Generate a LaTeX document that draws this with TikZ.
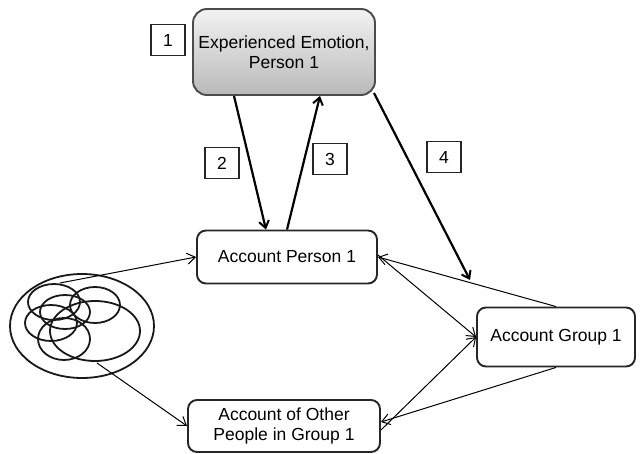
\documentclass[tikz,border=0pt]{standalone}
\usepackage{fontspec}
\setmainfont{Liberation Sans}
\usetikzlibrary{arrows.meta}
\tikzset{
  boxnode/.style = {align=center, inner sep=2pt, text centered, font=\fontsize{17.5}{20}\selectfont},
  acnode/.style = {boxnode, rectangle, rounded corners=9pt, draw=black!85, line width=1.9pt},
  emonode/.style = {acnode, draw=black!70, top color=gray!10, bottom color=gray!55, rounded corners=14pt},
  numnode/.style = {boxnode, rectangle, draw=black!85, line width=1.9pt, minimum width=34pt, minimum height=31pt},
  bigarrow/.style = {line width=2.2pt, -{Straight Barb[length=7pt,width=10pt,line width=2pt]}},
  thinarrow/.style = {line width=1pt, -{Straight Barb[length=8pt,width=11pt,line width=1pt]}},
  blob/.style = {line width=1.8pt, draw=black!90}
}
\begin{document}
\begin{tikzpicture}[x=1pt, y=-1pt]
\useasboundingbox (0,0) rectangle (642,454);
% boxes
\node [emonode, minimum width=182pt, minimum height=86pt] (emo) at (284,52) {Experienced Emotion,\\Person 1};
\node [acnode, minimum width=180pt, minimum height=53pt] (ap) at (287,257) {Account Person 1};
\node [acnode, minimum width=158pt, minimum height=59pt] (ag) at (556,337) {Account Group 1};
\node [acnode, minimum width=192pt, minimum height=52pt] (ao) at (284,426) {Account of Other\\People in Group 1};
% numbers
\node [numnode] (n1) at (168,40) {1};
\node [numnode] (n2) at (222,163) {2};
\node [numnode] (n3) at (330,159) {3};
\node [numnode] (n4) at (444,157) {4};
% group of people
\draw [blob] (82,326) ellipse [x radius=72, y radius=52];
\draw [blob] (54,302) ellipse [x radius=26, y radius=18];
\draw [blob] (95,305) ellipse [x radius=25, y radius=18];
\draw [blob] (65,312) ellipse [x radius=25, y radius=17];
\draw [blob] (51,323) ellipse [x radius=26, y radius=18];
\draw [blob] (95,331) ellipse [x radius=45, y radius=30];
\draw [blob] (64,339) ellipse [x radius=26, y radius=21];
\coordinate (gtop) at (60,283);
\coordinate (gbot) at (97,363);
% connectors
\coordinate (e2) at ([xshift=-50pt]emo.south);
\draw [bigarrow] (e2) -- ([xshift=-21pt]ap.north);
\draw [bigarrow] (ap.north) -- ([xshift=36pt]emo.south);
\coordinate (e4) at ([shift={(-2pt,3pt)}]emo.south east);
\coordinate (mid) at (470,280);
\draw [bigarrow] (e4) -- (mid);
\draw [thinarrow] (ag.north) -- (ap.east);
\draw [thinarrow] ([yshift=2pt]ap.east) -- (ag.west);
\draw [thinarrow] ([yshift=-4pt]ao.east) -- (ag.west);
\draw [thinarrow] (ag.south) -- ([yshift=4pt]ao.east);
\draw [thinarrow] (gtop) -- (ap.west);
\draw [thinarrow] (gbot) -- (ao.west);
\end{tikzpicture}
\end{document}
